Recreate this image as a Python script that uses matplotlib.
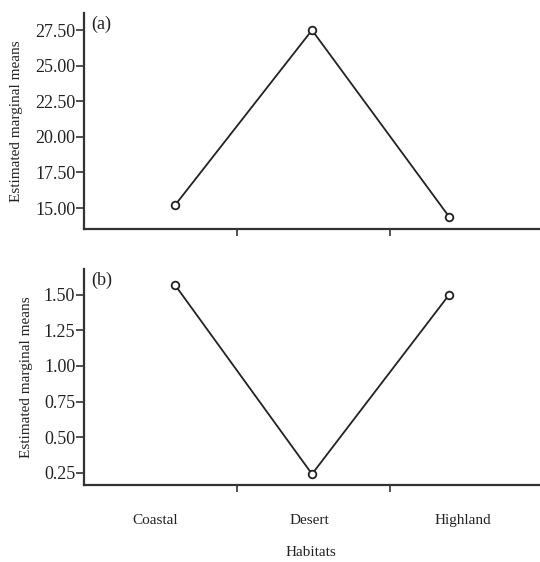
import matplotlib
matplotlib.use("Agg")
import matplotlib.pyplot as plt
from matplotlib.ticker import FixedLocator, NullFormatter

plt.rcParams['font.family'] = ['Liberation Serif', 'DejaVu Serif']

habitats = ["Coastal", "Desert", "Highland"]
means_a = [15.2, 27.5, 14.4]
means_b = [1.57, 0.24, 1.50]
yticks_a = [15.00, 17.50, 20.00, 22.50, 25.00, 27.50]
yticks_b = [0.25, 0.50, 0.75, 1.00, 1.25, 1.50]
panel_labels = ["(a)", "(b)"]

fig = plt.figure(figsize=(5.4, 5.62), dpi=100)
ax_a = fig.add_axes([0.1556, 0.5925, 0.8444, 0.3843])
ax_b = fig.add_axes([0.1556, 0.137, 0.8444, 0.3838])

col = '#222222'
x = list(range(len(habitats)))
label_pos = [-0.146, 0.978, 2.102]
boundary_ticks = [0.453, 1.566]

def style(ax, y, yticks, ylim, fmt, lab, show_labels):
    ax.plot(x, y, color=col, lw=1.3, marker='o', ms=5.5, mfc='white',
            mec=col, mew=1.3, zorder=3, clip_on=False)
    ax.set_xlim(-0.664, 2.664)
    ax.set_ylim(*ylim)
    for s in ['top', 'right']:
        ax.spines[s].set_visible(False)
    for s in ['left', 'bottom']:
        ax.spines[s].set_linewidth(1.6)
        ax.spines[s].set_color('#333333')
    ax.set_yticks(yticks)
    ax.set_yticklabels([fmt.format(v) for v in yticks])
    ax.tick_params(axis='y', length=5.5, width=1.2, color='#333333',
                   labelsize=13, labelcolor=col, pad=0.8)
    ax.xaxis.set_major_locator(FixedLocator(boundary_ticks))
    ax.xaxis.set_major_formatter(NullFormatter())
    ax.tick_params(axis='x', which='major', length=5, width=1.2, color='#333333')
    if show_labels:
        ax.xaxis.set_minor_locator(FixedLocator(label_pos))
        ax.set_xticklabels(habitats, minor=True)
        ax.tick_params(axis='x', which='minor', length=0, labelsize=11,
                       labelcolor=col, pad=21)
    ax.set_ylabel("Estimated marginal means", fontsize=11, color=col)
    ax.text(0.015, 0.99, lab, transform=ax.transAxes, ha='left', va='top',
            fontsize=13, color=col)

style(ax_a, means_a, yticks_a, (13.53, 28.7), "{:.2f}", panel_labels[0], False)
style(ax_b, means_b, yticks_b, (0.163, 1.68), "{:.2f}", panel_labels[1], True)
ax_a.yaxis.set_label_coords(-0.134, 0.5)
ax_b.yaxis.set_label_coords(-0.112, 0.5)
ax_b.set_xlabel("Habitats", fontsize=11, color=col)
ax_b.xaxis.set_label_coords((311 - 84) / 456, -0.283)

fig.savefig("out.png", dpi=100)
